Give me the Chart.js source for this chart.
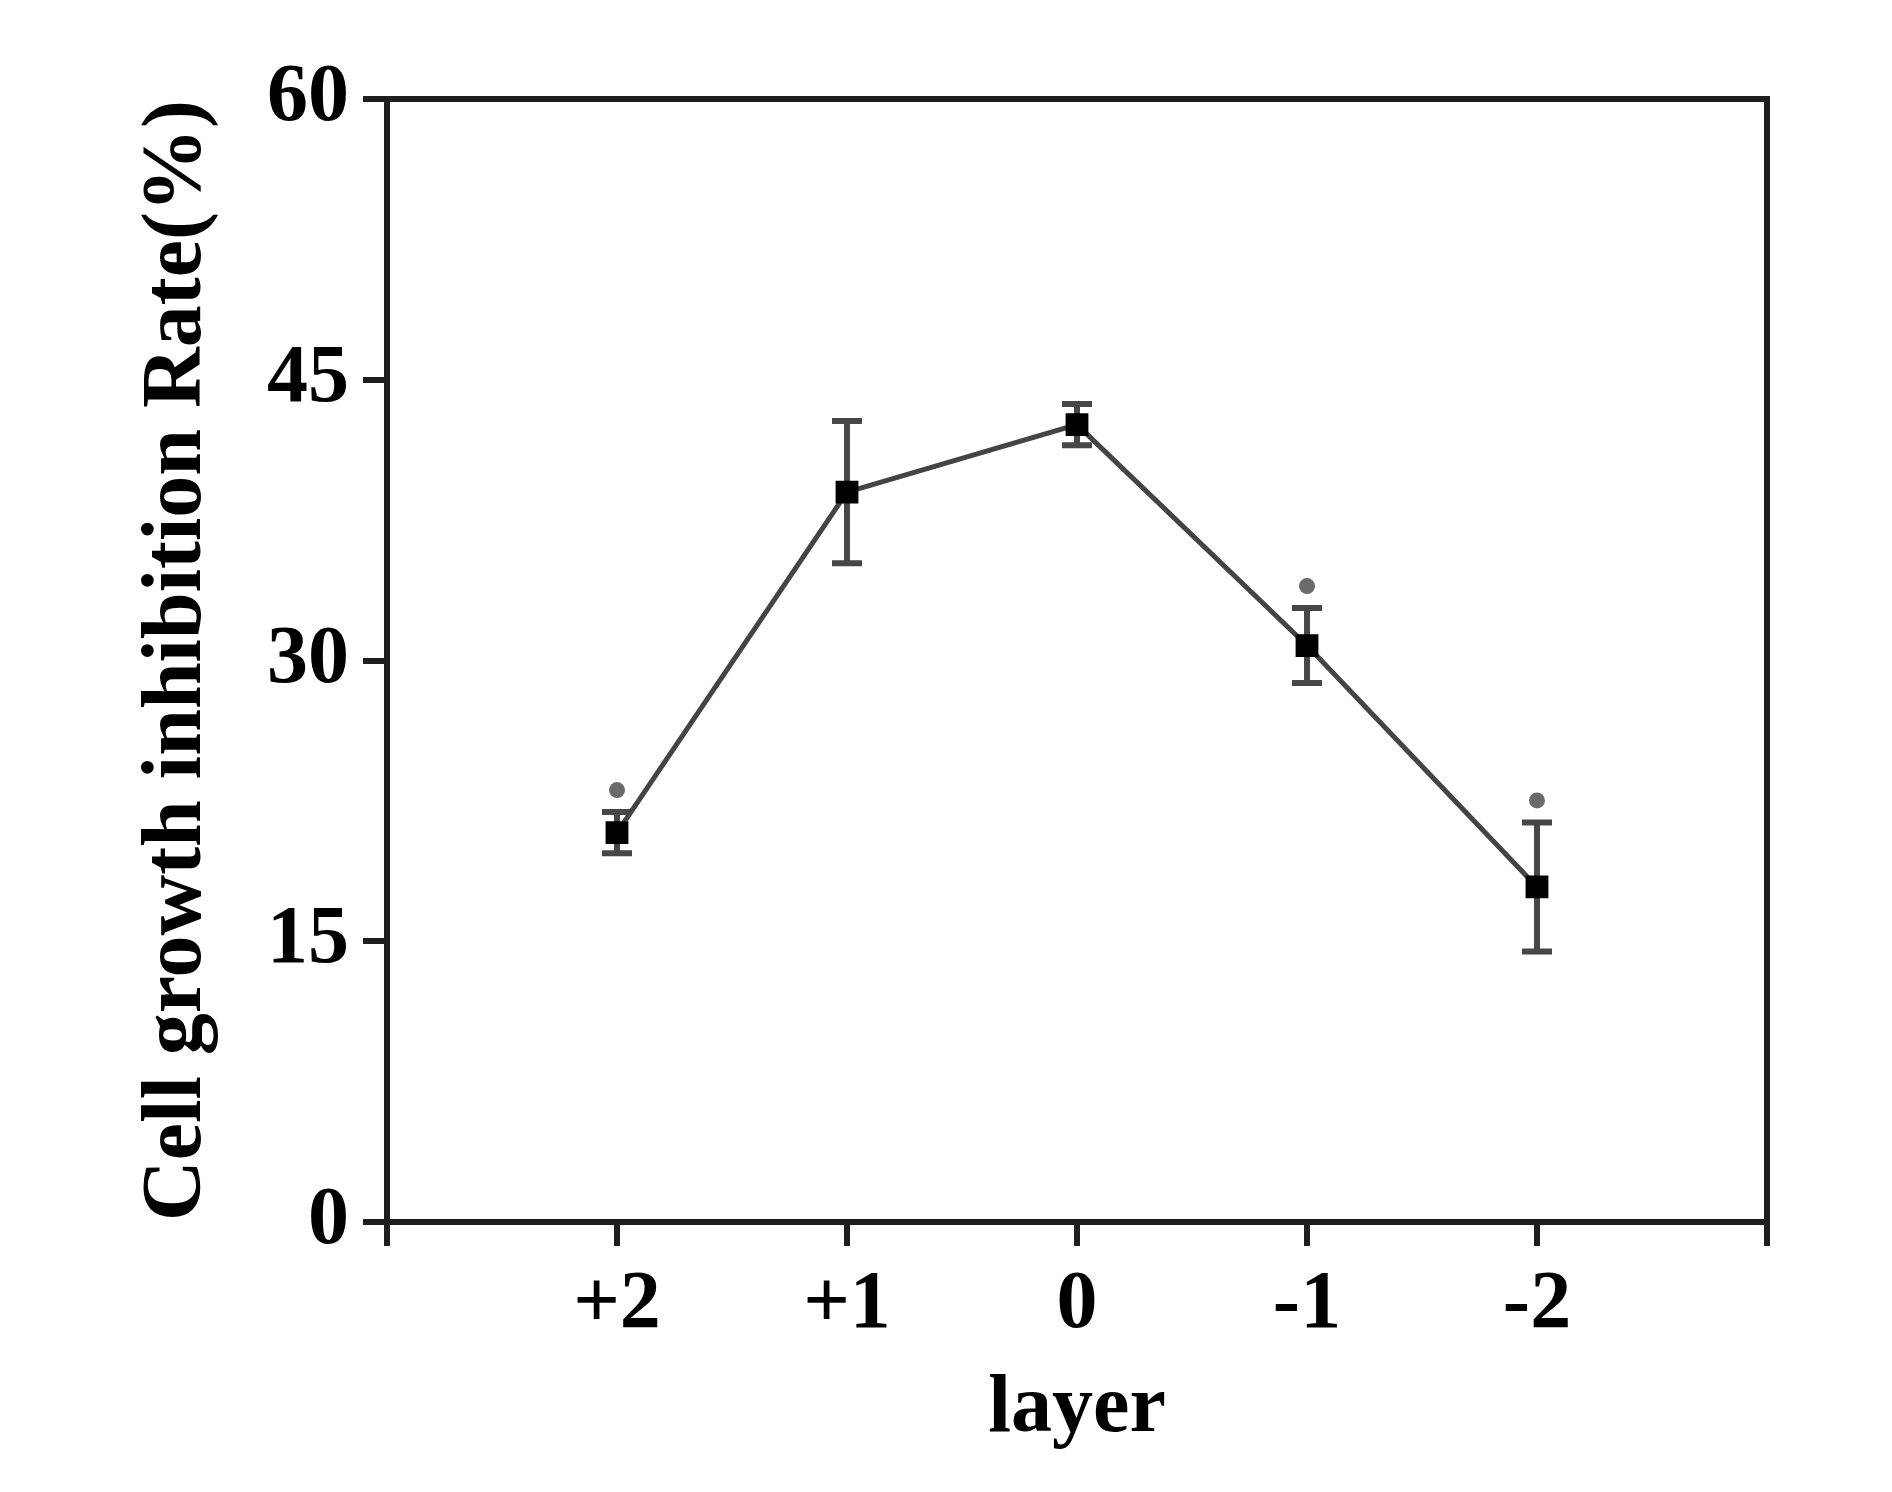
<!DOCTYPE html>
<html>
<head>
<meta charset="utf-8">
<title>Cell growth inhibition rate by layer</title>
<script src="https://cdn.jsdelivr.net/npm/chart.js@4.4.1/dist/chart.umd.min.js"></script>
<style>
    html, body { margin: 0; padding: 0; background: #fff; }
    #wrap { width: 1892px; height: 1492px; position: relative; }
</style>
</head>
<body>
<div id="wrap"><canvas id="rateChart"></canvas></div>
<script>
// Data
const layers = ['+2', '+1', '0', '-1', '-2'];
const inhibitionRate = [20.8, 39.0, 42.6, 30.8, 17.9];
const errorSD = [1.1, 3.8, 1.1, 2.0, 3.45];
const significant = [true, false, false, true, true];
const yMin = 0;
const yMax = 60;
const yStep = 15;

const FONT = '"Liberation Serif", "Times New Roman", serif';
const INK = '#1e1e1e';

// Error bars, significance dots and the top/right frame
const extrasPlugin = {
    id: 'extras',
    beforeDatasetsDraw(chart) {
        const ctx = chart.ctx;
        const xs = chart.scales.x;
        const ys = chart.scales.y;
        ctx.save();
        ctx.strokeStyle = '#474747';
        ctx.lineWidth = 6;
        inhibitionRate.forEach((v, i) => {
            const px = xs.getPixelForValue(i);
            const top = ys.getPixelForValue(v + errorSD[i]);
            const bot = ys.getPixelForValue(v - errorSD[i]);
            ctx.beginPath();
            ctx.moveTo(px, top);
            ctx.lineTo(px, bot);
            ctx.moveTo(px - 15, top);
            ctx.lineTo(px + 15, top);
            ctx.moveTo(px - 15, bot);
            ctx.lineTo(px + 15, bot);
            ctx.stroke();
            if (significant[i]) {
                ctx.fillStyle = '#6a6a6a';
                ctx.beginPath();
                ctx.arc(px, top - 22, 8, 0, Math.PI * 2);
                ctx.fill();
            }
        });
        ctx.restore();
    },
    afterDraw(chart) {
        const {ctx, chartArea} = chart;
        ctx.save();
        ctx.strokeStyle = INK;
        ctx.lineWidth = 6;
        ctx.beginPath();
        ctx.moveTo(chartArea.left, chartArea.top);
        ctx.lineTo(chartArea.right, chartArea.top);
        ctx.lineTo(chartArea.right, chartArea.bottom);
        ctx.stroke();
        ctx.restore();
    }
};

const points = layers.map((l, i) => ({ x: i, y: inhibitionRate[i] }));

new Chart(document.getElementById('rateChart'), {
    type: 'line',
    data: {
        datasets: [{
            label: 'Cell growth inhibition rate',
            data: points,
            borderColor: '#444',
            borderWidth: 5,
            tension: 0,
            fill: false,
            pointStyle: 'rect',
            pointRadius: 14,
            pointBorderWidth: 3,
            pointBackgroundColor: '#000',
            pointBorderColor: '#000'
        }]
    },
    options: {
        responsive: true,
        maintainAspectRatio: false,
        animation: false,
        layout: {
            padding: { top: 99, right: 125, left: 0, bottom: 0 }
        },
        plugins: {
            legend: { display: false },
            tooltip: { enabled: false }
        },
        scales: {
            x: {
                type: 'linear',
                min: -1,
                max: 5,
                afterFit: (scale) => { scale.height = 1492 - 1222; },
                ticks: {
                    stepSize: 1,
                    padding: 11,
                    color: '#000',
                    font: { family: FONT, size: 82, weight: 'bold', lineHeight: 1.2 },
                    callback: (v) => layers[v] ?? ''
                },
                grid: {
                    drawOnChartArea: false,
                    drawTicks: true,
                    tickLength: 24,
                    lineWidth: 6,
                    color: INK
                },
                border: { display: true, width: 6, color: INK },
                title: {
                    display: true,
                    text: 'layer',
                    color: '#000',
                    padding: { top: 0, bottom: 33 },
                    font: { family: FONT, size: 82, weight: 'bold', lineHeight: 1.2 }
                }
            },
            y: {
                min: yMin,
                max: yMax,
                afterFit: (scale) => { scale.width = 387; },
                ticks: {
                    stepSize: yStep,
                    padding: 14,
                    color: '#000',
                    font: { family: FONT, size: 82, weight: 'bold' }
                },
                grid: {
                    drawOnChartArea: false,
                    drawTicks: true,
                    tickLength: 24,
                    lineWidth: 6,
                    color: INK
                },
                border: { display: true, width: 6, color: INK },
                title: {
                    display: true,
                    text: 'Cell growth inhibition Rate(%)',
                    color: '#000',
                    padding: { top: 128, bottom: 0 },
                    font: { family: FONT, size: 84, weight: 'bold', lineHeight: 1.2 }
                }
            }
        }
    },
    plugins: [extrasPlugin]
});
</script>
</body>
</html>
